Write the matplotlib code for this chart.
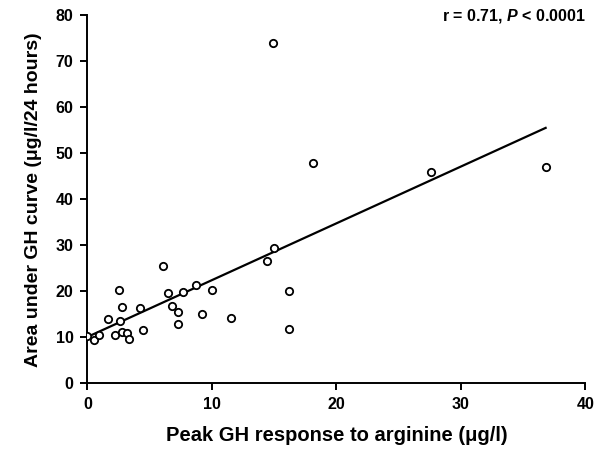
import matplotlib
matplotlib.use("Agg")
import matplotlib.pyplot as plt
import numpy as np

plt.rcParams['font.family'] = ['Liberation Sans', 'DejaVu Sans']
plt.rcParams['font.weight'] = 'bold'
plt.rcParams['mathtext.fontset'] = 'custom'
plt.rcParams['mathtext.it'] = 'Liberation Sans:italic:bold'
plt.rcParams['mathtext.rm'] = 'Liberation Sans:bold'

# peak GH after arginine (ug/l) vs area under 24 h GH curve
peak_gh = [0.0, 0.5, 0.95, 1.65, 2.2, 2.55, 2.75, 2.6, 2.8, 3.2, 3.3, 4.2, 4.5,
           6.1, 6.5, 6.8, 7.3, 7.3, 7.7, 8.7, 9.2, 10.0, 11.5, 14.4, 14.9,
           15.0, 16.2, 16.2, 18.1, 27.6, 36.8]
auc_gh = [10.2, 9.5, 10.5, 13.9, 10.5, 20.2, 16.5, 13.5, 11.1, 11.0, 9.7, 16.3, 11.7,
          25.5, 19.7, 16.9, 15.5, 13.0, 19.9, 21.4, 15.0, 20.3, 14.3, 26.6, 74.0,
          29.5, 20.1, 11.9, 47.9, 45.9, 46.9]

# regression line end points
fit_x = [0.0, 36.8]
fit_y = [10.1, 55.5]

fig = plt.figure(figsize=(5.95, 4.57), dpi=100)
ax = fig.add_axes([0.147, 0.161, 0.837, 0.806])

ax.plot(fit_x, fit_y, color='black', lw=1.6, zorder=2)
ax.scatter(peak_gh, auc_gh, s=28, facecolors='white', edgecolors='black',
           linewidths=1.3, zorder=3)

ax.set_xlim(0, 40)
ax.set_ylim(0, 80)
ax.set_xticks([0, 10, 20, 30, 40])
ax.set_yticks(np.arange(0, 81, 10))
ax.spines['top'].set_visible(False)
ax.spines['right'].set_visible(False)
ax.spines['left'].set_linewidth(1.4)
ax.spines['bottom'].set_linewidth(1.4)
ax.tick_params(direction='out', length=5, width=1.4, labelsize=11.5, pad=5)
for lab in ax.get_xticklabels() + ax.get_yticklabels():
    lab.set_fontweight('bold')

ax.set_xlabel('Peak GH response to arginine (\u03bcg/l)', fontsize=14.5,
              fontweight='bold', labelpad=10)
ax.set_ylabel('Area under GH curve (\u03bcg/l/24 hours)', fontsize=14,
              fontweight='bold', labelpad=10)

fig.text(0.985, 0.965, r'r = 0.71, $P$ < 0.0001', ha='right', va='center',
         fontsize=11.5, fontweight='bold')

plt.savefig('out.png', dpi=100)
